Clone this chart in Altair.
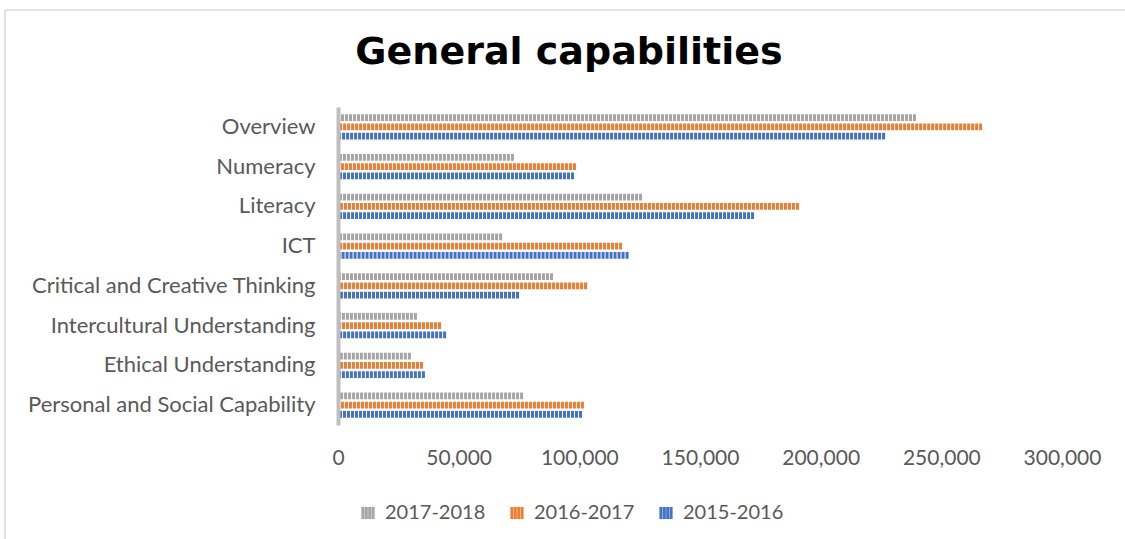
import altair as alt
import pandas as pd

categories = [
    "Overview",
    "Numeracy",
    "Literacy",
    "ICT",
    "Critical and Creative Thinking",
    "Intercultural Understanding",
    "Ethical Understanding",
    "Personal and Social Capability",
]
series = ["2017-2018", "2016-2017", "2015-2016"]
colors = ["#a5a5a5", "#ed7d31", "#4472c4"]

v_2017_2018 = [239500, 72900, 126000, 68000, 89100, 32700, 30200, 76700]
v_2016_2017 = [266900, 98600, 191000, 117700, 103200, 42700, 35200, 101900]
v_2015_2016 = [226700, 97800, 172400, 120400, 75000, 44800, 36000, 101100]

x_ticks = [0, 50000, 100000, 150000, 200000, 250000, 300000]
title_text = "General capabilities"

rows = []
for s, vals in zip(series, [v_2017_2018, v_2016_2017, v_2015_2016]):
    for c, v in zip(categories, vals):
        rows.append({"category": c, "series": s, "value": v})
df = pd.DataFrame(rows)

LBL = "#595959"
FONT = "Lato"

stripe_path = "M-0.85,-1V1M-0.28,-1V1M0.28,-1V1M0.85,-1V1"

bars = alt.Chart(df).mark_rule(strokeWidth=6.7, strokeDash=[3, 1], strokeCap="butt").encode(
    y=alt.Y(
        "category:N",
        sort=categories,
        scale=alt.Scale(paddingInner=0, paddingOuter=0),
        axis=alt.Axis(
            title=None, domain=True, domainColor="#bfbfbf", domainWidth=4,
            ticks=False, tickSize=0, grid=False, labelFont=FONT, labelFontSize=22,
            labelColor=LBL, labelPadding=23, labelLimit=0, zindex=1,
        ),
    ),
    yOffset=alt.YOffset(
        "series:N", sort=series, scale=alt.Scale(paddingOuter=0.637, paddingInner=0)
    ),
    x=alt.X(
        "value:Q",
        scale=alt.Scale(domain=[0, 300000], nice=False),
        axis=alt.Axis(
            title=None, domain=False, ticks=False, tickSize=0, grid=False,
            values=x_ticks, format=",d", labelFont=FONT, labelFontSize=21,
            labelColor=LBL, labelPadding=22, labelFlush=False,
        ),
    ),
    x2=alt.value(0),
    color=alt.Color(
        "series:N",
        sort=series,
        scale=alt.Scale(domain=series, range=colors),
        legend=alt.Legend(
            title=None, orient="none", legendX=20, legendY=396, direction="horizontal",
            symbolType=stripe_path, symbolSize=144, symbolStrokeWidth=3,
            symbolDash=[20, 0], labelFont=FONT, labelFontSize=20, labelColor=LBL,
            labelOffset=7, columnPadding=19, padding=0,
        ),
    ),
)

one = pd.DataFrame({"t": [title_text]})

frame_top = alt.Chart(one).mark_rule(color="#d9d9d9", strokeWidth=1.5).encode(
    x=alt.value(-333), x2=alt.value(787), y=alt.value(-97)
)
frame_left = alt.Chart(one).mark_rule(color="#d9d9d9", strokeWidth=1.5).encode(
    x=alt.value(-333), y=alt.value(-97), y2=alt.value(440)
)

title = alt.Chart(one).mark_text(
    font="DejaVu Sans", fontSize=38, fontWeight="bold", color="black",
    align="center", baseline="alphabetic",
).encode(x=alt.value(231), y=alt.value(-42.7), text="t:N")

chart = (
    alt.layer(frame_top, frame_left, bars, title)
    .properties(
        width=724, height=318,
        autosize=alt.AutoSizeParams(type="none"),
        padding={"left": 338, "top": 107, "right": 63, "bottom": 114},
    )
    .configure(background="white")
    .configure_view(stroke=None, strokeWidth=0)
)

chart.save("out.html", embed_options={"renderer": "svg", "actions": False})
